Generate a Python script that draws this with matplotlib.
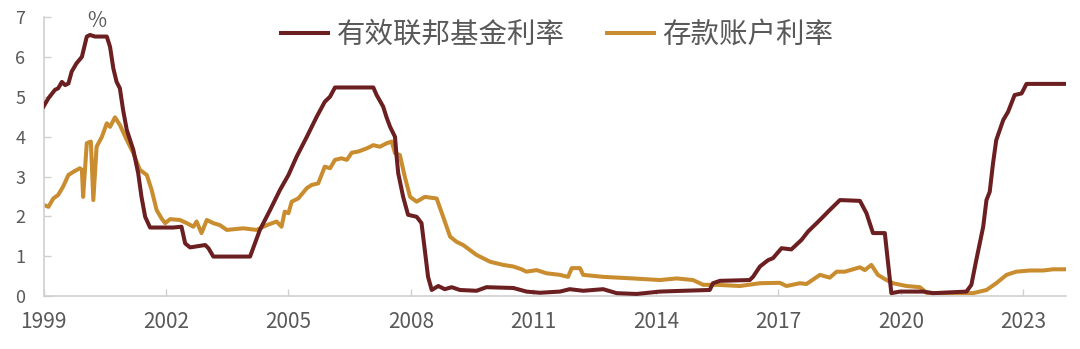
import matplotlib
matplotlib.use('Agg')
import matplotlib.pyplot as plt

plt.rcParams['font.family'] = ['Noto Sans CJK SC', 'DejaVu Sans']

# Effective federal funds rate (%), x in fractional years
fed_x = [1999.00, 1999.12, 1999.28, 1999.36, 1999.45, 1999.53, 1999.61, 1999.69, 1999.81, 1999.94,
         2000.06, 2000.14, 2000.26, 2000.55, 2000.63, 2000.71, 2000.79, 2000.87, 2000.95, 2001.04,
         2001.20, 2001.32, 2001.40, 2001.49, 2001.61, 2002.18, 2002.38, 2002.47, 2002.59, 2002.96,
         2003.04, 2003.16, 2004.06, 2004.30, 2004.55, 2004.79, 2005.00, 2005.20, 2005.45, 2005.69,
         2005.89, 2006.02, 2006.14, 2007.08, 2007.16, 2007.32, 2007.40, 2007.49, 2007.61, 2007.65,
         2007.69, 2007.81, 2007.93, 2008.14, 2008.26, 2008.34, 2008.42, 2008.51, 2008.67, 2008.83,
         2009.00, 2009.20, 2009.61, 2009.85, 2010.51, 2010.83, 2011.16, 2011.65, 2011.89, 2012.22,
         2012.71, 2013.04, 2013.53, 2014.10, 2014.67, 2015.32, 2015.40, 2015.57, 2016.30, 2016.38,
         2016.55, 2016.75, 2016.87, 2017.08, 2017.32, 2017.57, 2017.73, 2018.02, 2018.26, 2018.51,
         2019.00, 2019.16, 2019.32, 2019.61, 2019.69, 2019.77, 2019.98, 2020.55, 2020.79, 2021.61,
         2021.73, 2021.85, 2022.02, 2022.10, 2022.18, 2022.26, 2022.34, 2022.51, 2022.63, 2022.79,
         2022.96, 2023.08, 2024.02]
fed_y = [4.76, 4.97, 5.18, 5.22, 5.38, 5.30, 5.34, 5.64, 5.85, 6.01,
         6.52, 6.56, 6.52, 6.52, 6.26, 5.72, 5.38, 5.22, 4.67, 4.17,
         3.67, 3.08, 2.49, 1.99, 1.72, 1.72, 1.74, 1.32, 1.22, 1.28,
         1.20, 0.99, 0.99, 1.66, 2.16, 2.66, 3.04, 3.50, 4.00, 4.50,
         4.88, 5.01, 5.24, 5.24, 5.05, 4.76, 4.50, 4.25, 4.00, 3.50,
         3.08, 2.49, 2.04, 1.99, 1.83, 1.16, 0.48, 0.15, 0.25, 0.17,
         0.22, 0.15, 0.13, 0.22, 0.20, 0.11, 0.08, 0.11, 0.17, 0.13,
         0.17, 0.07, 0.05, 0.11, 0.13, 0.15, 0.32, 0.38, 0.40, 0.48,
         0.74, 0.90, 0.95, 1.20, 1.17, 1.41, 1.62, 1.91, 2.16, 2.41,
         2.39, 2.08, 1.58, 1.58, 0.82, 0.07, 0.11, 0.11, 0.07, 0.11,
         0.28, 0.90, 1.74, 2.41, 2.62, 3.33, 3.92, 4.42, 4.63, 5.05,
         5.09, 5.33, 5.33]

# Deposit account rate (%)
dep_x = [1999.00, 1999.12, 1999.24, 1999.36, 1999.48, 1999.61, 1999.73, 1999.89, 1999.94, 1999.97,
         2000.06, 2000.16, 2000.22, 2000.30, 2000.43, 2000.55, 2000.63, 2000.75, 2000.87, 2001.04,
         2001.20, 2001.36, 2001.53, 2001.65, 2001.77, 2001.89, 2001.98, 2002.10, 2002.34, 2002.51,
         2002.67, 2002.75, 2002.87, 2003.00, 2003.16, 2003.32, 2003.49, 2003.89, 2004.22, 2004.47,
         2004.71, 2004.83, 2004.91, 2005.00, 2005.08, 2005.24, 2005.45, 2005.57, 2005.73, 2005.89,
         2006.02, 2006.14, 2006.30, 2006.43, 2006.55, 2006.71, 2006.92, 2007.08, 2007.24, 2007.41,
         2007.53, 2007.61, 2007.73, 2007.85, 2007.98, 2008.14, 2008.34, 2008.63, 2008.79, 2008.96,
         2009.12, 2009.28, 2009.61, 2009.94, 2010.26, 2010.51, 2010.71, 2010.83, 2011.08, 2011.32,
         2011.65, 2011.85, 2011.94, 2012.14, 2012.22, 2012.71, 2013.44, 2014.10, 2014.51, 2014.91,
         2015.16, 2015.49, 2016.06, 2016.55, 2017.04, 2017.20, 2017.53, 2017.69, 2018.02, 2018.26,
         2018.43, 2018.63, 2018.83, 2019.00, 2019.12, 2019.28, 2019.44, 2019.65, 2019.81, 2020.14,
         2020.47, 2020.63, 2020.96, 2021.77, 2022.10, 2022.34, 2022.59, 2022.83, 2023.16, 2023.49,
         2023.73, 2024.02]
dep_y = [2.29, 2.24, 2.45, 2.54, 2.75, 3.04, 3.12, 3.21, 3.17, 2.49,
         3.84, 3.88, 2.41, 3.75, 4.00, 4.34, 4.25, 4.49, 4.30, 3.92,
         3.59, 3.17, 3.04, 2.66, 2.16, 1.95, 1.83, 1.93, 1.91, 1.83,
         1.74, 1.87, 1.58, 1.91, 1.83, 1.78, 1.66, 1.70, 1.66, 1.78,
         1.87, 1.74, 2.12, 2.08, 2.37, 2.45, 2.71, 2.79, 2.83, 3.25,
         3.21, 3.42, 3.46, 3.42, 3.60, 3.63, 3.71, 3.79, 3.75, 3.84,
         3.88, 3.59, 3.54, 3.00, 2.49, 2.37, 2.49, 2.45, 1.99, 1.49,
         1.36, 1.28, 1.03, 0.86, 0.78, 0.74, 0.67, 0.61, 0.65, 0.57,
         0.53, 0.48, 0.70, 0.70, 0.53, 0.48, 0.44, 0.40, 0.44, 0.40,
         0.28, 0.28, 0.25, 0.32, 0.33, 0.25, 0.32, 0.30, 0.53, 0.46,
         0.61, 0.61, 0.67, 0.72, 0.65, 0.78, 0.53, 0.40, 0.32, 0.25,
         0.22, 0.08, 0.07, 0.07, 0.15, 0.32, 0.53, 0.61, 0.64, 0.64,
         0.67, 0.67]

year_ticks = [1999, 2002, 2005, 2008, 2011, 2014, 2017, 2020, 2023]
y_ticks = [0, 1, 2, 3, 4, 5, 6, 7]

fed_color = '#6b1f21'
dep_color = '#c98c2e'
axis_color = '#d0d0d0'
text_color = '#595959'

fig = plt.figure(figsize=(10.8, 3.49), dpi=100)
ax = fig.add_axes([0.0403, 0.152, 0.9468, 0.798])

ax.plot(fed_x, fed_y, color=fed_color, linewidth=2.9, label='有效联邦基金利率',
        solid_joinstyle='round', zorder=3)
ax.plot(dep_x, dep_y, color=dep_color, linewidth=2.9, label='存款账户利率',
        solid_joinstyle='round', zorder=2)

ax.set_xlim(1999, 2024.05)
ax.set_ylim(0, 7)
ax.set_xticks(year_ticks)
ax.set_xticklabels([str(y) for y in year_ticks])
ax.set_yticks(y_ticks)

for side in ['top', 'right']:
    ax.spines[side].set_visible(False)
for side in ['left', 'bottom']:
    ax.spines[side].set_color(axis_color)
    ax.spines[side].set_linewidth(1.2)

ax.tick_params(axis='x', direction='in', length=5, width=1, color=axis_color,
               labelsize=15, labelcolor=text_color, pad=11)
ax.tick_params(axis='y', direction='in', length=5, width=1, color=axis_color,
               labelsize=13, labelcolor=text_color, pad=13)

fig.text(0.09, 0.94, '%', fontsize=15, color=text_color, ha='center', va='center')

fig.legend(loc='center', bbox_to_anchor=(0.516, 0.90), ncol=2, frameon=False,
           fontsize=20.5, labelcolor=text_color, handlelength=1.65,
           handletextpad=0.28, columnspacing=1.5)

plt.savefig('out.png', dpi=100)
